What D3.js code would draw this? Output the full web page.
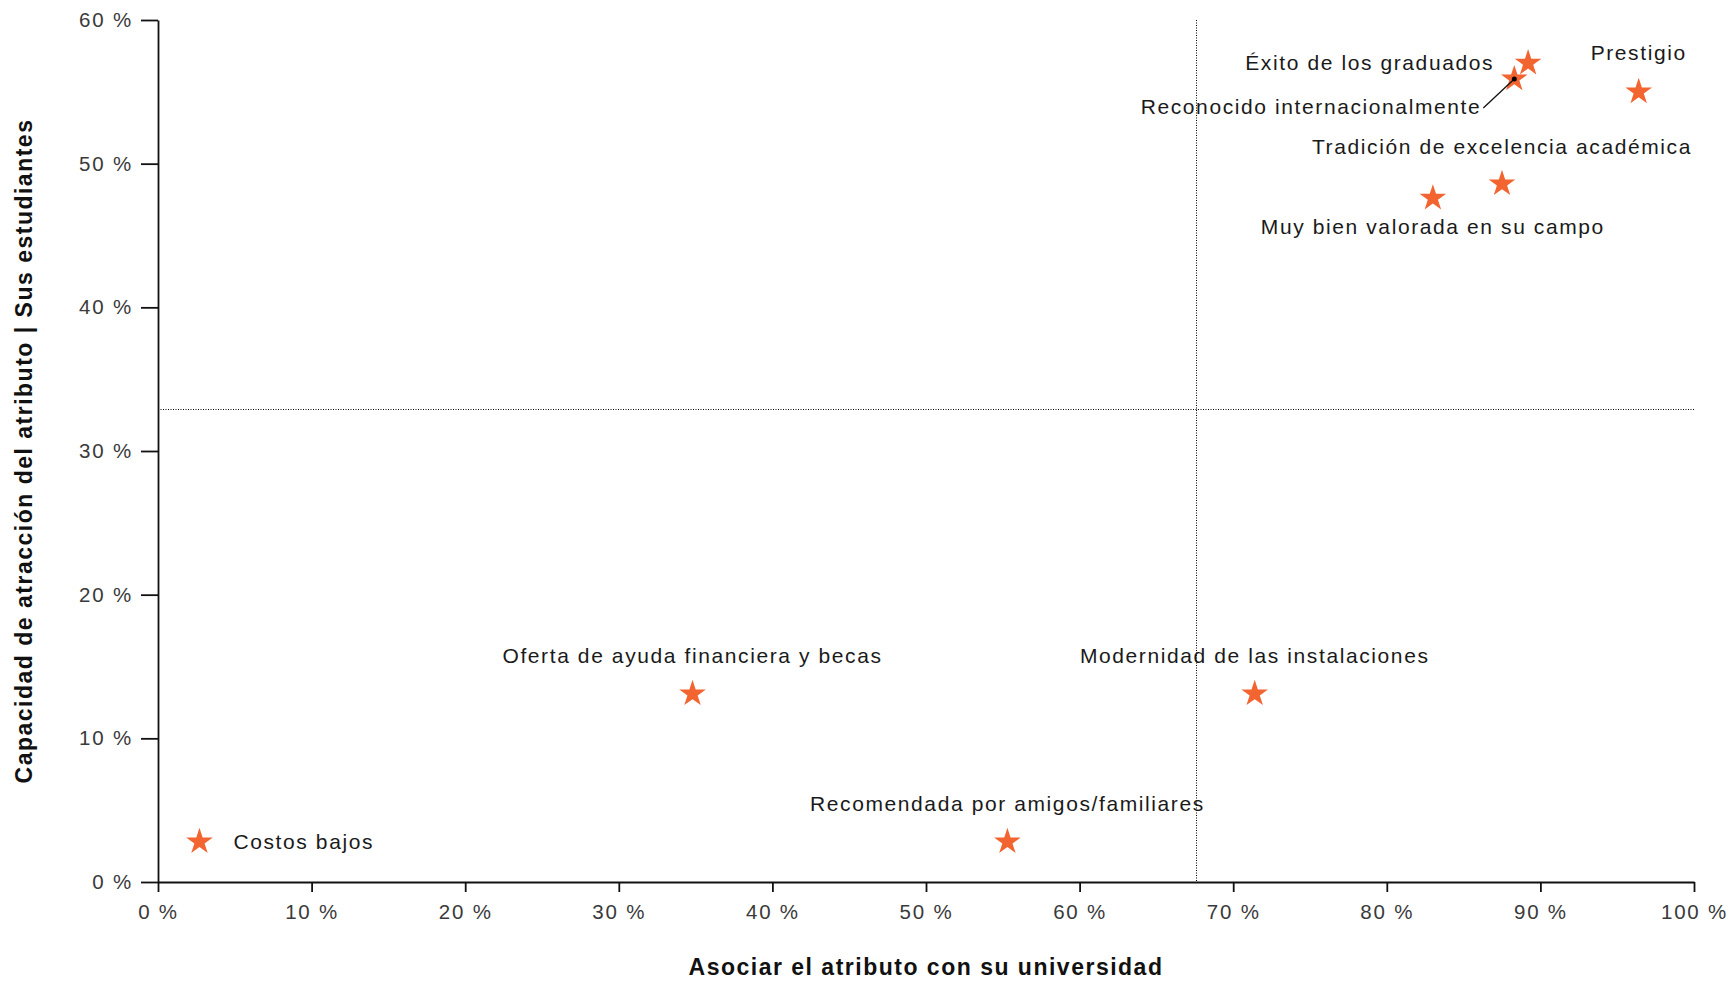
<!DOCTYPE html>
<html>
<head>
<meta charset="utf-8">
<script src="https://cdn.jsdelivr.net/npm/d3@7"></script>
<style>
  html, body { margin: 0; padding: 0; background: #ffffff; }
  svg { display: block; }
  .lbl { font-family: "Liberation Sans", Arial, sans-serif; font-size: 21px; letter-spacing: 1.6px; fill: #1a1a1a; }
  .tick text { font-family: "Liberation Sans", Arial, sans-serif; font-size: 20.5px; letter-spacing: 1.8px; fill: #3a3a3a; }
  .title { font-family: "Liberation Sans", Arial, sans-serif; font-size: 23px; font-weight: bold; letter-spacing: 1.5px; fill: #111; }
</style>
</head>
<body>
<svg id="chart" width="1736" height="982"></svg>
<script>
// ---- data ----
const attributes = [
  "Costos bajos",
  "Oferta de ayuda financiera y becas",
  "Recomendada por amigos/familiares",
  "Modernidad de las instalaciones",
  "Muy bien valorada en su campo",
  "Tradición de excelencia académica",
  "Reconocido internacionalmente",
  "Éxito de los graduados",
  "Prestigio"
];
const association = [2.7, 34.8, 55.3, 71.4, 83.0, 87.5, 88.3, 89.2, 96.4];   // x, %
const attraction  = [2.8, 13.1, 2.8, 13.1, 47.6, 48.6, 55.9, 57.0, 55.0];   // y, %
const xTicks = [0, 10, 20, 30, 40, 50, 60, 70, 80, 90, 100];
const yTicks = [0, 10, 20, 30, 40, 50, 60];
const avgAssociation = 67.6;
const avgAttraction = 32.9;
const xTitle = "Asociar el atributo con su universidad";
const yTitle = "Capacidad de atracción del atributo | Sus estudiantes";

// ---- layout ----
const W = 1736, H = 982;
const margin = { left: 158, right: 42, top: 20, bottom: 100 };
const svg = d3.select("#chart");

const x = d3.scaleLinear().domain([0, 100]).range([margin.left, W - margin.right]);
const y = d3.scaleLinear().domain([0, 60]).range([H - margin.bottom, margin.top]);

const pct = d => d + " %";

// reference (average) lines
svg.append("line")
  .attr("x1", x(0)).attr("x2", x(100))
  .attr("y1", Math.round(y(avgAttraction)) + 0.5).attr("y2", Math.round(y(avgAttraction)) + 0.5)
  .attr("stroke", "#000").attr("stroke-width", 1).attr("stroke-dasharray", "1,1.5");
svg.append("line")
  .attr("x1", Math.round(x(avgAssociation)) + 0.5).attr("x2", Math.round(x(avgAssociation)) + 0.5)
  .attr("y1", y(60)).attr("y2", y(0))
  .attr("stroke", "#000").attr("stroke-width", 1).attr("stroke-dasharray", "1,1.5");

// axes
const xAxis = svg.append("g")
  .attr("transform", `translate(0,${y(0)})`)
  .call(d3.axisBottom(x).tickValues(xTicks).tickFormat(pct).tickSizeInner(10).tickSizeOuter(0).tickPadding(12));
const yAxis = svg.append("g")
  .attr("transform", `translate(${x(0)},0)`)
  .call(d3.axisLeft(y).tickValues(yTicks).tickFormat(pct).tickSizeInner(17).tickSizeOuter(0).tickPadding(8));
[xAxis, yAxis].forEach(g => {
  g.select(".domain").attr("stroke", "#111").attr("stroke-width", 1.8);
  g.selectAll(".tick line").attr("stroke", "#111").attr("stroke-width", 1.8);
  g.attr("font-family", null).attr("font-size", null);
});

// axis titles
svg.append("text").attr("class", "title")
  .attr("x", (x(0) + x(100)) / 2).attr("y", H - 7)
  .attr("text-anchor", "middle").text(xTitle);
svg.append("text").attr("class", "title")
  .attr("transform", `translate(32,${(y(0) + y(60)) / 2}) rotate(-90)`)
  .attr("text-anchor", "middle").text(yTitle);

// points
const pts = attributes.map((name, i) => ({ name, ax: association[i], at: attraction[i] }));
const star = d3.symbol().type(d3.symbolStar).size(220);

svg.append("g").selectAll("path")
  .data(pts).join("path")
  .attr("d", star)
  .attr("transform", d => `translate(${x(d.ax)},${y(d.at)})`)
  .attr("fill", "#f26430");

// label placement (style, not data)
const place = {
  "Costos bajos": { anchor: "start", dx: 34, dy: 7 },
  "Oferta de ayuda financiera y becas": { anchor: "middle", dx: 0, dy: -31 },
  "Recomendada por amigos/familiares": { anchor: "middle", dx: 0, dy: -31 },
  "Modernidad de las instalaciones": { anchor: "middle", dx: 0, dy: -31 },
  "Muy bien valorada en su campo": { anchor: "middle", dx: 0, dy: 36 },
  "Tradición de excelencia académica": { anchor: "middle", dx: 0, dy: -30 },
  "Reconocido internacionalmente": { anchor: "end", dx: -33, dy: 35, leader: true },
  "Éxito de los graduados": { anchor: "end", dx: -34, dy: 7 },
  "Prestigio": { anchor: "middle", dx: 0, dy: -32 }
};

const lg = svg.append("g");
pts.forEach(d => {
  const p = place[d.name];
  const cx = x(d.ax), cy = y(d.at);
  if (p.leader) {
    lg.append("line")
      .attr("x1", cx + p.dx + 2).attr("y1", cy + p.dy - 6)
      .attr("x2", cx).attr("y2", cy)
      .attr("stroke", "#111").attr("stroke-width", 1.3);
    lg.append("circle").attr("cx", cx).attr("cy", cy).attr("r", 2.5).attr("fill", "#000");
  }
  lg.append("text").attr("class", "lbl")
    .attr("x", cx + p.dx).attr("y", cy + p.dy)
    .attr("text-anchor", p.anchor)
    .text(d.name);
});
</script>
</body>
</html>
